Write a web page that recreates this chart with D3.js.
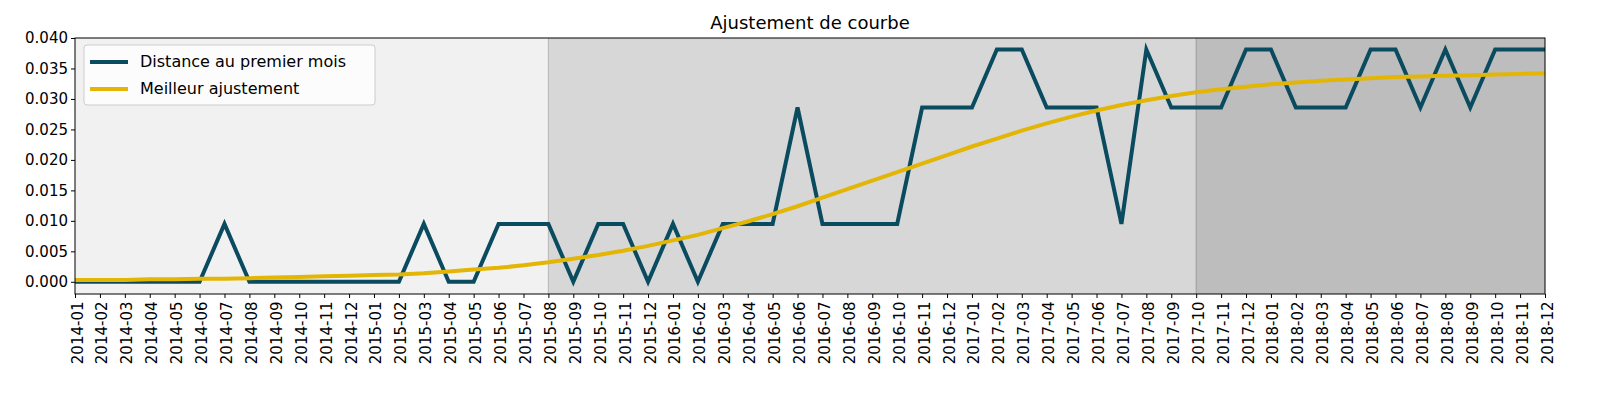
<!DOCTYPE html>
<html><head><meta charset="utf-8">
<script src="https://cdn.jsdelivr.net/npm/d3@7"></script>
<style>body{margin:0;background:#fff;font-family:"DejaVu Sans",sans-serif;}</style>
</head><body><svg id="c" width="1600" height="400"></svg>
<script>
const months=[];for(let y=2014;y<=2018;y++)for(let m=1;m<=12;m++)months.push(y+"-"+String(m).padStart(2,"0"));
const A=0,B=0.0095,C=0.0286,D=0.0381;
const distance=[A,A,A,A,A,A,B,A,A,A,A,A,A,A,B,A,A,B,B,B,A,B,B,A,B,A,B,B,B,C,B,B,B,B,C,C,C,D,D,C,C,C,B,D,C,C,C,D,D,C,C,C,D,D,C,D,C,D,D,D];
const fit=[.0003,.0003,.0003,.0004,.0004,.0005,.0005,.0006,.0007,.0008,.0009,.0010,.0011,.0012,.0014,.0017,.0020,.0023,.0027,.0032,.0038,.0044,.0051,.0059,.0068,.0077,.0088,.0099,.0111,.0124,.0138,.0152,.0166,.0180,.0194,.0208,.0222,.0235,.0248,.0260,.0271,.0281,.0290,.0298,.0305,.0311,.0316,.0320,.0324,.0327,.0330,.0332,.0334,.0336,.0337,.0338,.0339,.0340,.0341,.0342];
const bands=[["2014-01","2015-08","#f1f1f1"],["2015-08","2017-10","#d7d7d7"],["2017-10","2018-12","#bdbdbd"]];
const yTicks=[0,0.005,0.01,0.015,0.02,0.025,0.03,0.035,0.04];
const svg=d3.select("#c");
const L=75,R=1545,T=38,Bm=294;
const x=d3.scalePoint().domain(months).range([L,R]);
const y=d3.scaleLinear().domain([-0.002,0.040]).range([Bm,T]);
bands.forEach(b=>svg.append("rect").attr("x",x(b[0])).attr("y",T).attr("width",x(b[1])-x(b[0])).attr("height",Bm-T).attr("fill",b[2]));
[["2015-08","#b5b5b5"],["2017-10","#999"]].forEach(v=>svg.append("line").attr("x1",x(v[0])).attr("x2",x(v[0])).attr("y1",T).attr("y2",Bm).attr("stroke",v[1]));
const line=d3.line().x((d,i)=>x(months[i])).y(d=>y(d));
svg.append("path").attr("d",line(distance)).attr("fill","none").attr("stroke","#0a4b5f").attr("stroke-width",4).attr("stroke-linejoin","miter");
svg.append("path").attr("d",line(fit)).attr("fill","none").attr("stroke","#e3b505").attr("stroke-width",4);
svg.append("rect").attr("x",L).attr("y",T).attr("width",R-L).attr("height",Bm-T).attr("fill","none").attr("stroke","#000").attr("stroke-width",1);
const ya=svg.append("g").attr("transform",`translate(${L},0)`).call(d3.axisLeft(y).tickValues(yTicks).tickFormat(d3.format(".3f")).tickSize(4));
ya.select(".domain").remove();
ya.selectAll("text").attr("font-size",15).attr("font-family","DejaVu Sans").attr("fill","#000");
const xa=svg.append("g").attr("transform",`translate(0,${Bm})`).call(d3.axisBottom(x).tickSize(4));
xa.select(".domain").remove();
xa.selectAll("text").attr("font-size",15).attr("font-family","DejaVu Sans").attr("fill","#000")
 .attr("transform","rotate(-90)").attr("text-anchor","end").attr("dx","-0.5em").attr("dy","-0.1em").attr("x",-0).attr("y",4).style("dominant-baseline","middle");
svg.append("text").attr("x",(L+R)/2).attr("y",29).attr("text-anchor","middle").attr("font-size",18).text("Ajustement de courbe");
const lg=svg.append("g");
lg.append("rect").attr("x",84).attr("y",45).attr("width",291).attr("height",60).attr("rx",3).attr("fill","#fff").attr("fill-opacity",0.8).attr("stroke","#ccc");
[["Distance au premier mois","#0a4b5f",62],["Meilleur ajustement","#e3b505",89]].forEach(e=>{
 lg.append("line").attr("x1",90).attr("x2",128).attr("y1",e[2]).attr("y2",e[2]).attr("stroke",e[1]).attr("stroke-width",4);
 lg.append("text").attr("x",140).attr("y",e[2]+5).attr("font-size",16).text(e[0]);});
</script></body></html>
